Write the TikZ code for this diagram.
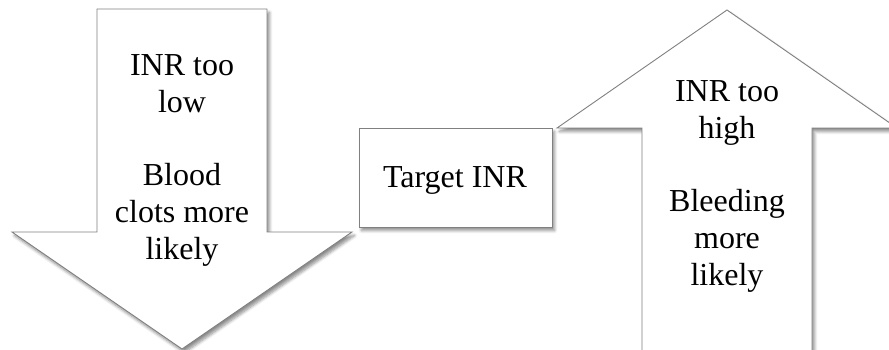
\documentclass[tikz,border=0pt]{standalone}
\usepackage{fontspec}
\setmainfont{Liberation Serif}
\usetikzlibrary{shadows.blur}
\tikzset{
  shape outline/.style={draw=black!50, line width=0.9pt, fill=white, line join=miter,
    blur shadow={shadow xshift=2.5pt, shadow yshift=-3.5pt, shadow blur steps=6, shadow blur radius=3pt, shadow opacity=45}},
  label text/.style={align=center, inner sep=0pt, anchor=base,
    font=\fontsize{32}{37}\selectfont}
}
\begin{document}
\begin{tikzpicture}[x=1pt,y=-1pt]
\useasboundingbox (0,0) rectangle (889,350);
\clip (0,0) rectangle (889,350);
% down arrow
\path[shape outline] (97,9) -- (267,9) -- (267,232) -- (352,232) -- (182,349) -- (12,232) -- (97,232) -- cycle;
\node[label text] (low) at (182,259) {INR too\\low\\[36pt]Blood\\clots more\\likely};
% target box
\node[shape outline, minimum width=193pt, minimum height=99pt, inner sep=0pt] (target) at (455.5,177.5) {};
\node[label text] (targettext) at (455,187) {Target INR};
% up arrow
\path[shape outline] (727,10) -- (897,128) -- (812,128) -- (812,380) -- (642,380) -- (642,128) -- (557,128) -- cycle;
\node[label text] (high) at (727,285) {INR too\\high\\[36pt]Bleeding\\more\\likely};
\end{tikzpicture}
\end{document}
